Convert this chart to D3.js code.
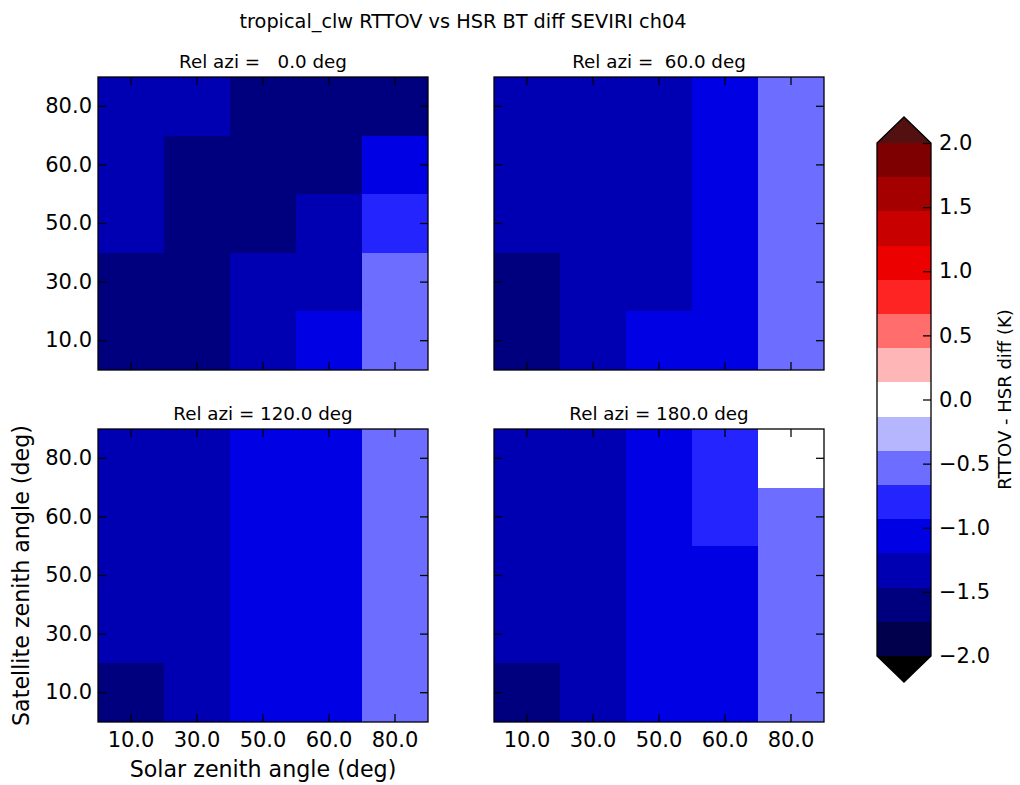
<!DOCTYPE html>
<html>
<head>
<meta charset="utf-8">
<script src="https://cdn.jsdelivr.net/npm/d3@7"></script>
<style>
  body { margin: 0; background: #fff; }
  svg text { font-family: "DejaVu Sans", sans-serif; fill: #000; }
</style>
</head>
<body>
<script>
// angle categories
const solarZen = [10, 30, 50, 60, 80];
const satZen = [10, 30, 50, 60, 80];
const relAzi = [0, 60, 120, 180];

// BT difference (K), rows follow satZen (10 -> 80), columns follow solarZen
const diffAzi0 = [
    [-1.62, -1.58, -1.33, -1.06, -0.55],
    [-1.60, -1.61, -1.36, -1.30, -0.52],
    [-1.38, -1.59, -1.63, -1.34, -0.81],
    [-1.35, -1.57, -1.62, -1.55, -1.08],
    [-1.32, -1.34, -1.60, -1.64, -1.59]
];
const diffAzi60 = [
    [-1.60, -1.36, -1.10, -1.02, -0.56],
    [-1.56, -1.33, -1.30, -1.05, -0.55],
    [-1.38, -1.35, -1.31, -1.07, -0.54],
    [-1.37, -1.34, -1.32, -1.06, -0.55],
    [-1.36, -1.33, -1.30, -1.04, -0.56]
];
const diffAzi120 = [
    [-1.58, -1.34, -1.08, -1.05, -0.55],
    [-1.39, -1.32, -1.07, -1.04, -0.54],
    [-1.38, -1.31, -1.06, -1.03, -0.55],
    [-1.37, -1.31, -1.06, -1.02, -0.56],
    [-1.36, -1.30, -1.05, -1.01, -0.55]
];
const diffAzi180 = [
    [-1.57, -1.33, -1.07, -1.04, -0.57],
    [-1.38, -1.31, -1.05, -1.02, -0.55],
    [-1.37, -1.30, -1.04, -1.00, -0.54],
    [-1.35, -1.29, -1.03, -0.85, -0.53],
    [-1.34, -1.28, -1.02, -0.80, 0.02]
];
const panelData = [diffAzi0, diffAzi60, diffAzi120, diffAzi180];

// colour bar levels / colours (seismic, 15 bins)
const cbTicks = [-2.0, -1.5, -1.0, -0.5, 0.0, 0.5, 1.0, 1.5, 2.0];
const binColors = ["#00004c", "#00007f", "#0000b2", "#0000e5", "#2424ff", "#6d6dff", "#b6b6ff", "#ffffff",
    "#ffb6b6", "#ff6d6d", "#ff2424", "#ed0000", "#c80000", "#a40000", "#7f0000"];
const underColor = "#000000", overColor = "#531010";

const W = 1020, H = 785;
const vmin = -2, vmax = 2;
const levels = d3.range(binColors.length + 1).map(i => vmin + i * (vmax - vmin) / binColors.length);

const color = d3.scaleThreshold()
    .domain(levels)
    .range([underColor].concat(binColors, [overColor]));

const svg = d3.select("body").append("svg")
    .attr("width", W)
    .attr("height", H);

// suptitle
svg.append("text")
    .attr("x", 463).attr("y", 28)
    .attr("text-anchor", "middle")
    .style("font-size", "19.3px")
    .text("tropical_clw RTTOV vs HSR BT diff SEVIRI ch04");

const pw = 330, ph = 293;
const lefts = [98, 494], tops = [77, 429];
const fmt = d3.format(".1f");

relAzi.forEach((az, k) => {
    const col = k % 2, row = Math.floor(k / 2);
    const x0 = lefts[col], y0 = tops[row];
    const g = svg.append("g").attr("transform", `translate(${x0},${y0})`);

    const x = d3.scaleBand().domain(solarZen).range([0, pw]);
    const y = d3.scaleBand().domain(satZen.slice().reverse()).range([0, ph]);

    const cells = [];
    panelData[k].forEach((r, i) => r.forEach((v, j) => cells.push({ s: satZen[i], z: solarZen[j], v: v })));

    g.selectAll("rect.cell")
        .data(cells)
        .enter().append("rect")
        .attr("class", "cell")
        .attr("x", d => Math.round(x(d.z)))
        .attr("y", d => Math.round(y(d.s)))
        .attr("width", d => Math.round(x(d.z) + x.bandwidth()) - Math.round(x(d.z)))
        .attr("height", d => Math.round(y(d.s) + y.bandwidth()) - Math.round(y(d.s)))
        .attr("shape-rendering", "crispEdges")
        .attr("fill", d => color(d.v));

    // axes, ticks pointing inward
    const axB = d3.axisBottom(x).tickSize(-8).tickPadding(10).tickFormat(row === 1 ? fmt : "");
    const axT = d3.axisTop(x).tickSize(-8).tickFormat("");
    const axL = d3.axisLeft(y).tickSize(-8).tickPadding(6).tickFormat(col === 0 ? fmt : "");
    const axR = d3.axisRight(y).tickSize(-8).tickFormat("");

    const axes = [
        g.append("g").attr("transform", `translate(0,${ph})`).call(axB),
        g.append("g").call(axT),
        g.append("g").call(axL),
        g.append("g").attr("transform", `translate(${pw},0)`).call(axR)
    ];
    axes.forEach(a => {
        a.select(".domain").remove();
        a.selectAll("line").attr("stroke", "#000").attr("stroke-width", 1.25);
        a.selectAll("text").style("font-size", "21px").attr("fill", "#000");
    });

    g.append("rect")
        .attr("width", pw).attr("height", ph)
        .attr("fill", "none")
        .attr("stroke", "#000")
        .attr("stroke-width", 1.3);

    g.append("text")
        .attr("x", pw / 2).attr("y", -9)
        .attr("text-anchor", "middle")
        .style("font-size", "18.3px")
        .style("white-space", "pre")
        .text("Rel azi = " + fmt(az).padStart(5, " ") + " deg");
});

// axis labels
svg.append("text")
    .attr("x", 98 + pw / 2).attr("y", 777)
    .attr("text-anchor", "middle")
    .style("font-size", "22.2px")
    .text("Solar zenith angle (deg)");

svg.append("text")
    .attr("transform", `translate(29,${429 + ph / 2}) rotate(-90)`)
    .attr("text-anchor", "middle")
    .style("font-size", "22.2px")
    .text("Satellite zenith angle (deg)");

// colour bar
const cbX = 877, cbW = 54, cbTop = 143, cbBot = 656, tri = 26;
const cbY = d3.scaleLinear().domain([vmin, vmax]).range([cbBot, cbTop]);
const cb = svg.append("g");

cb.selectAll("rect")
    .data(binColors)
    .enter().append("rect")
    .attr("x", cbX)
    .attr("y", (d, i) => Math.round(cbY(levels[i + 1])))
    .attr("width", cbW)
    .attr("height", (d, i) => Math.round(cbY(levels[i])) - Math.round(cbY(levels[i + 1])))
    .attr("shape-rendering", "crispEdges")
    .attr("fill", d => d);

cb.append("path")
    .attr("d", `M${cbX},${cbY(vmax)}L${cbX + cbW / 2},${cbY(vmax) - tri}L${cbX + cbW},${cbY(vmax)}Z`)
    .attr("fill", overColor);
cb.append("path")
    .attr("d", `M${cbX},${cbY(vmin)}L${cbX + cbW / 2},${cbY(vmin) + tri}L${cbX + cbW},${cbY(vmin)}Z`)
    .attr("fill", underColor);

cb.append("path")
    .attr("d", `M${cbX},${cbY(vmax)}L${cbX + cbW / 2},${cbY(vmax) - tri}L${cbX + cbW},${cbY(vmax)}` +
        `L${cbX + cbW},${cbY(vmin)}L${cbX + cbW / 2},${cbY(vmin) + tri}L${cbX},${cbY(vmin)}Z`)
    .attr("fill", "none")
    .attr("stroke", "#000")
    .attr("stroke-width", 1.3);

const cbAxis = cb.append("g")
    .attr("transform", `translate(${cbX + cbW},0)`)
    .call(d3.axisRight(cbY).tickValues(cbTicks).tickSize(-8).tickPadding(8).tickFormat(fmt));
cbAxis.select(".domain").remove();
cbAxis.selectAll("line").attr("stroke", "#000").attr("stroke-width", 1.25);
cbAxis.selectAll("text").style("font-size", "21px").attr("fill", "#000");

svg.append("text")
    .attr("transform", `translate(1011,${(cbTop + cbBot) / 2}) rotate(-90)`)
    .attr("text-anchor", "middle")
    .style("font-size", "18px")
    .text("RTTOV - HSR diff (K)");
</script>
</body>
</html>
